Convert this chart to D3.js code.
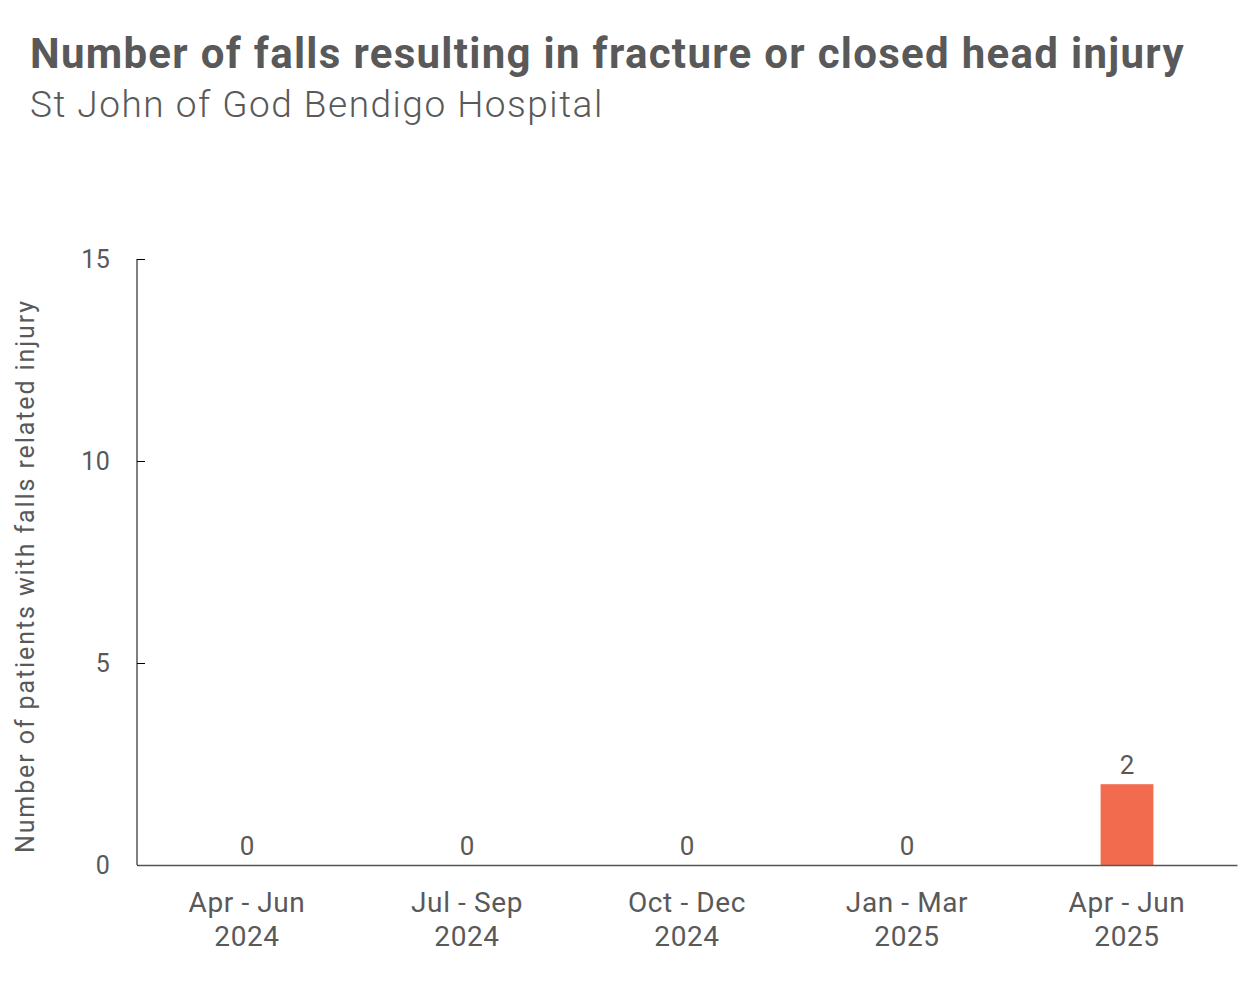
<!DOCTYPE html>
<html>
<head>
<meta charset="utf-8">
<script src="https://cdn.jsdelivr.net/npm/d3@7"></script>
<style>
  body { margin: 0; background: #fff; }
  text { font-family: Roboto, "Noto Sans", sans-serif; fill: #595959; }
</style>
</head>
<body>
<script>
var quarters = ["Apr - Jun|2024", "Jul - Sep|2024", "Oct - Dec|2024", "Jan - Mar|2025", "Apr - Jun|2025"];
var falls = [0, 0, 0, 0, 2];
var yTicks = [0, 5, 10, 15];

var width = 1260,
    height = 981;
var plotLeft = 137, plotRight = 1237, plotTop = 259, plotBottom = 865;

var svg = d3.select("body").append("svg")
    .attr("width", width)
    .attr("height", height);

svg.append("text")
    .attr("x", 30)
    .attr("y", 68)
    .attr("font-size", "42px")
    .attr("font-weight", "bold")
    .attr("letter-spacing", "1.3px")
    .text("Number of falls resulting in fracture or closed head injury");

svg.append("text")
    .attr("x", 30)
    .attr("y", 117)
    .attr("font-size", "37px")
    .attr("font-weight", 300)
    .attr("letter-spacing", "1.5px")
    .text("St John of God Bendigo Hospital");

var x = d3.scaleBand()
    .domain(quarters)
    .range([plotLeft, plotRight])
    .paddingInner(0.76)
    .paddingOuter(0.38);

var y = d3.scaleLinear()
    .domain([0, 15])
    .range([plotBottom, plotTop]);

// y axis, ticks point inward
var yAxis = svg.append("g")
    .attr("transform", "translate(" + plotLeft + ",0)")
    .call(d3.axisLeft(y).tickValues(yTicks).tickSize(-8).tickPadding(27));
yAxis.select(".domain").attr("stroke", "#000").attr("d", "M0," + plotTop + "V" + plotBottom);
yAxis.selectAll(".tick line").attr("stroke", "#000");
yAxis.selectAll(".tick text")
    .attr("font-size", "25px")
    .attr("font-family", "Roboto, sans-serif")
    .attr("letter-spacing", "0.3px")
    .attr("fill", "#595959");

svg.append("text")
    .attr("transform", "translate(34," + ((plotTop + plotBottom) / 2 + 14) + ") rotate(-90)")
    .attr("text-anchor", "middle")
    .attr("font-size", "25px")
    .attr("letter-spacing", "1.9px")
    .text("Number of patients with falls related injury");

svg.selectAll(".bar")
    .data(falls)
    .enter()
    .append("rect")
    .attr("class", "bar")
    .attr("x", function(d, i) { return x(quarters[i]); })
    .attr("width", x.bandwidth())
    .attr("y", function(d) { return y(d); })
    .attr("height", function(d) { return plotBottom - y(d); })
    .attr("fill", "#f26b4f");

svg.selectAll(".val")
    .data(falls)
    .enter()
    .append("text")
    .attr("class", "val")
    .attr("x", function(d, i) { return x(quarters[i]) + x.bandwidth() / 2; })
    .attr("y", function(d) { return y(d) - 10; })
    .attr("text-anchor", "middle")
    .attr("font-size", "26px")
    .text(function(d) { return d; });

// x axis
var xAxis = svg.append("g")
    .attr("transform", "translate(0," + plotBottom + ")")
    .call(d3.axisBottom(x).tickSize(0).tickPadding(0));
xAxis.select(".domain").attr("stroke", "#555").attr("stroke-width", 1.5);
xAxis.selectAll(".tick text").remove();
xAxis.selectAll(".tick").each(function(d) {
  var parts = d.split("|");
  var t = d3.select(this).append("text")
      .attr("text-anchor", "middle")
      .attr("font-size", "28px")
      .attr("letter-spacing", "0.6px")
      .attr("fill", "#595959");
  t.append("tspan").attr("x", 0).attr("y", 47).text(parts[0]);
  t.append("tspan").attr("x", 0).attr("y", 81).text(parts[1]);
});
</script>
</body>
</html>
